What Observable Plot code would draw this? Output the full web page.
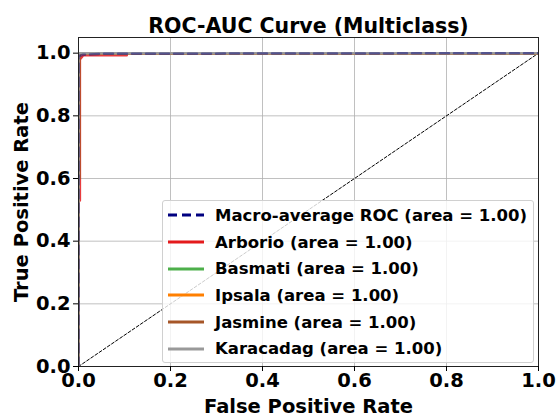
<!DOCTYPE html>
<html>
<head>
<meta charset="utf-8">
<script src="https://cdn.jsdelivr.net/npm/d3@7"></script>
<script src="https://cdn.jsdelivr.net/npm/@observablehq/plot@0.6"></script>
<style>
  html, body { margin: 0; padding: 0; background: #fff; }
  #wrap { position: relative; width: 556px; height: 417px; font-family: "DejaVu Sans", sans-serif; }
  #legend {
    position: absolute; left: 162px; top: 200px; width: 372px; height: 163px;
    background: rgba(255,255,255,0.8); border: 1px solid #d0d0d0; border-radius: 3px;
    box-sizing: border-box; padding-top: 1px;
  }
  .row { display: flex; align-items: center; height: 26.7px; font-weight: bold; font-size: 16.5px; color: #000; white-space: nowrap; }
  .row svg { margin-left: 5px; margin-right: 11px; }
</style>
</head>
<body>
<div id="wrap"></div>
<script>
// ---- data ----
const title = "ROC-AUC Curve (Multiclass)";
const xLabel = "False Positive Rate";
const yLabel = "True Positive Rate";
const ticks = [0, 0.2, 0.4, 0.6, 0.8, 1.0];

const classes = ["Arborio", "Basmati", "Ipsala", "Jasmine", "Karacadag"];
const classColors = ["#e41a1c", "#4daf4a", "#ff7f00", "#a65628", "#999999"];
const aucs = [1.00, 1.00, 1.00, 1.00, 1.00];
const macroAuc = 1.00;
const macroColor = "navy";

const macroFpr = [0, 0, 0.01, 0.05, 1];
const macroTpr = [0, 0.99, 0.995, 0.998, 1];

const arborioFpr = [0, 0, 0.003, 0.003, 0.01, 0.105, 0.105, 1];
const arborioTpr = [0, 0.53, 0.53, 0.98, 0.993, 0.993, 1, 1];
const basmatiFpr = [0, 0, 0.001, 1];
const basmatiTpr = [0, 0.998, 1, 1];
const ipsalaFpr = [0, 0, 0.012, 1];
const ipsalaTpr = [0, 1, 1, 1];
const jasmineFpr = [0, 0, 0.002, 0.002, 0.006, 1];
const jasmineTpr = [0, 0.6, 0.6, 0.99, 1, 1];
const karacadagFpr = [0, 0, 1];
const karacadagTpr = [0, 1, 1];

const chanceFpr = [0, 1];
const chanceTpr = [0, 1];

const classFpr = [arborioFpr, basmatiFpr, ipsalaFpr, jasmineFpr, karacadagFpr];
const classTpr = [arborioTpr, basmatiTpr, ipsalaTpr, jasmineTpr, karacadagTpr];

// ---- build ----
const toPts = (xs, ys) => xs.map((x, i) => ({fpr: x, tpr: ys[i]}));
const classLines = classes.map((c, k) =>
  Plot.line(toPts(classFpr[k], classTpr[k]), {x: "fpr", y: "tpr", stroke: classColors[k], strokeWidth: 2.5, strokeOpacity: k === 0 ? 0.85 : 1, clip: true})
);

const chart = Plot.plot({
  width: 556,
  height: 417,
  marginLeft: 78,
  marginRight: 18,
  marginTop: 37,
  marginBottom: 51,
  style: {fontFamily: "DejaVu Sans", fontWeight: "bold", fontSize: "19.5px", color: "#000", background: "#fff"},
  x: {domain: [0, 1], ticks: ticks, tickFormat: ".1f"},
  y: {domain: [0, 1.05], ticks: ticks, tickFormat: ".1f"},
  marks: [
    Plot.gridX(ticks, {stroke: "#b0b0b0", strokeOpacity: 1, strokeWidth: 0.8}),
    Plot.gridY(ticks, {stroke: "#b0b0b0", strokeOpacity: 1, strokeWidth: 0.8}),
    Plot.line(toPts(chanceFpr, chanceTpr), {x: "fpr", y: "tpr", stroke: "black", strokeWidth: 1, strokeDasharray: "3,2"}),
    ...classLines,
    Plot.line(toPts(macroFpr, macroTpr), {x: "fpr", y: "tpr", stroke: macroColor, strokeWidth: 2.5, strokeDasharray: "9,5", strokeOpacity: 0.45, clip: true}),
    Plot.frame({stroke: "#222", strokeWidth: 1}),
    Plot.axisX(ticks, {tickFormat: ".1f", tickSize: 5, tickPadding: 2, label: xLabel, labelAnchor: "center", labelOffset: 46, labelArrow: "none", fontSize: 19.5, fontWeight: "bold"}),
    Plot.axisY(ticks, {tickFormat: ".1f", tickSize: 5, tickPadding: 3, label: yLabel, labelAnchor: "center", labelOffset: 64, labelArrow: "none", fontSize: 19.5, fontWeight: "bold"}),
    Plot.text([title], {frameAnchor: "top", dy: -19, fontSize: 20.5, fontWeight: "bold", fill: "#000"})
  ]
});

const wrap = document.getElementById("wrap");
wrap.appendChild(chart);

// legend
const legend = document.createElement("div");
legend.id = "legend";
const items = [{label: `Macro-average ROC (area = ${macroAuc.toFixed(2)})`, color: macroColor, dash: "9,5"}]
  .concat(classes.map((c, k) => ({label: `${c} (area = ${aucs[k].toFixed(2)})`, color: classColors[k], dash: null})));
for (const it of items) {
  const row = document.createElement("div");
  row.className = "row";
  const svg = d3.create("svg").attr("width", 36).attr("height", 10);
  svg.append("line").attr("x1", 0).attr("x2", 36).attr("y1", 5).attr("y2", 5)
    .attr("stroke", it.color).attr("stroke-width", 3).attr("stroke-dasharray", it.dash);
  row.appendChild(svg.node());
  const span = document.createElement("span");
  span.textContent = it.label;
  row.appendChild(span);
  legend.appendChild(row);
}
wrap.appendChild(legend);
</script>
</body>
</html>
